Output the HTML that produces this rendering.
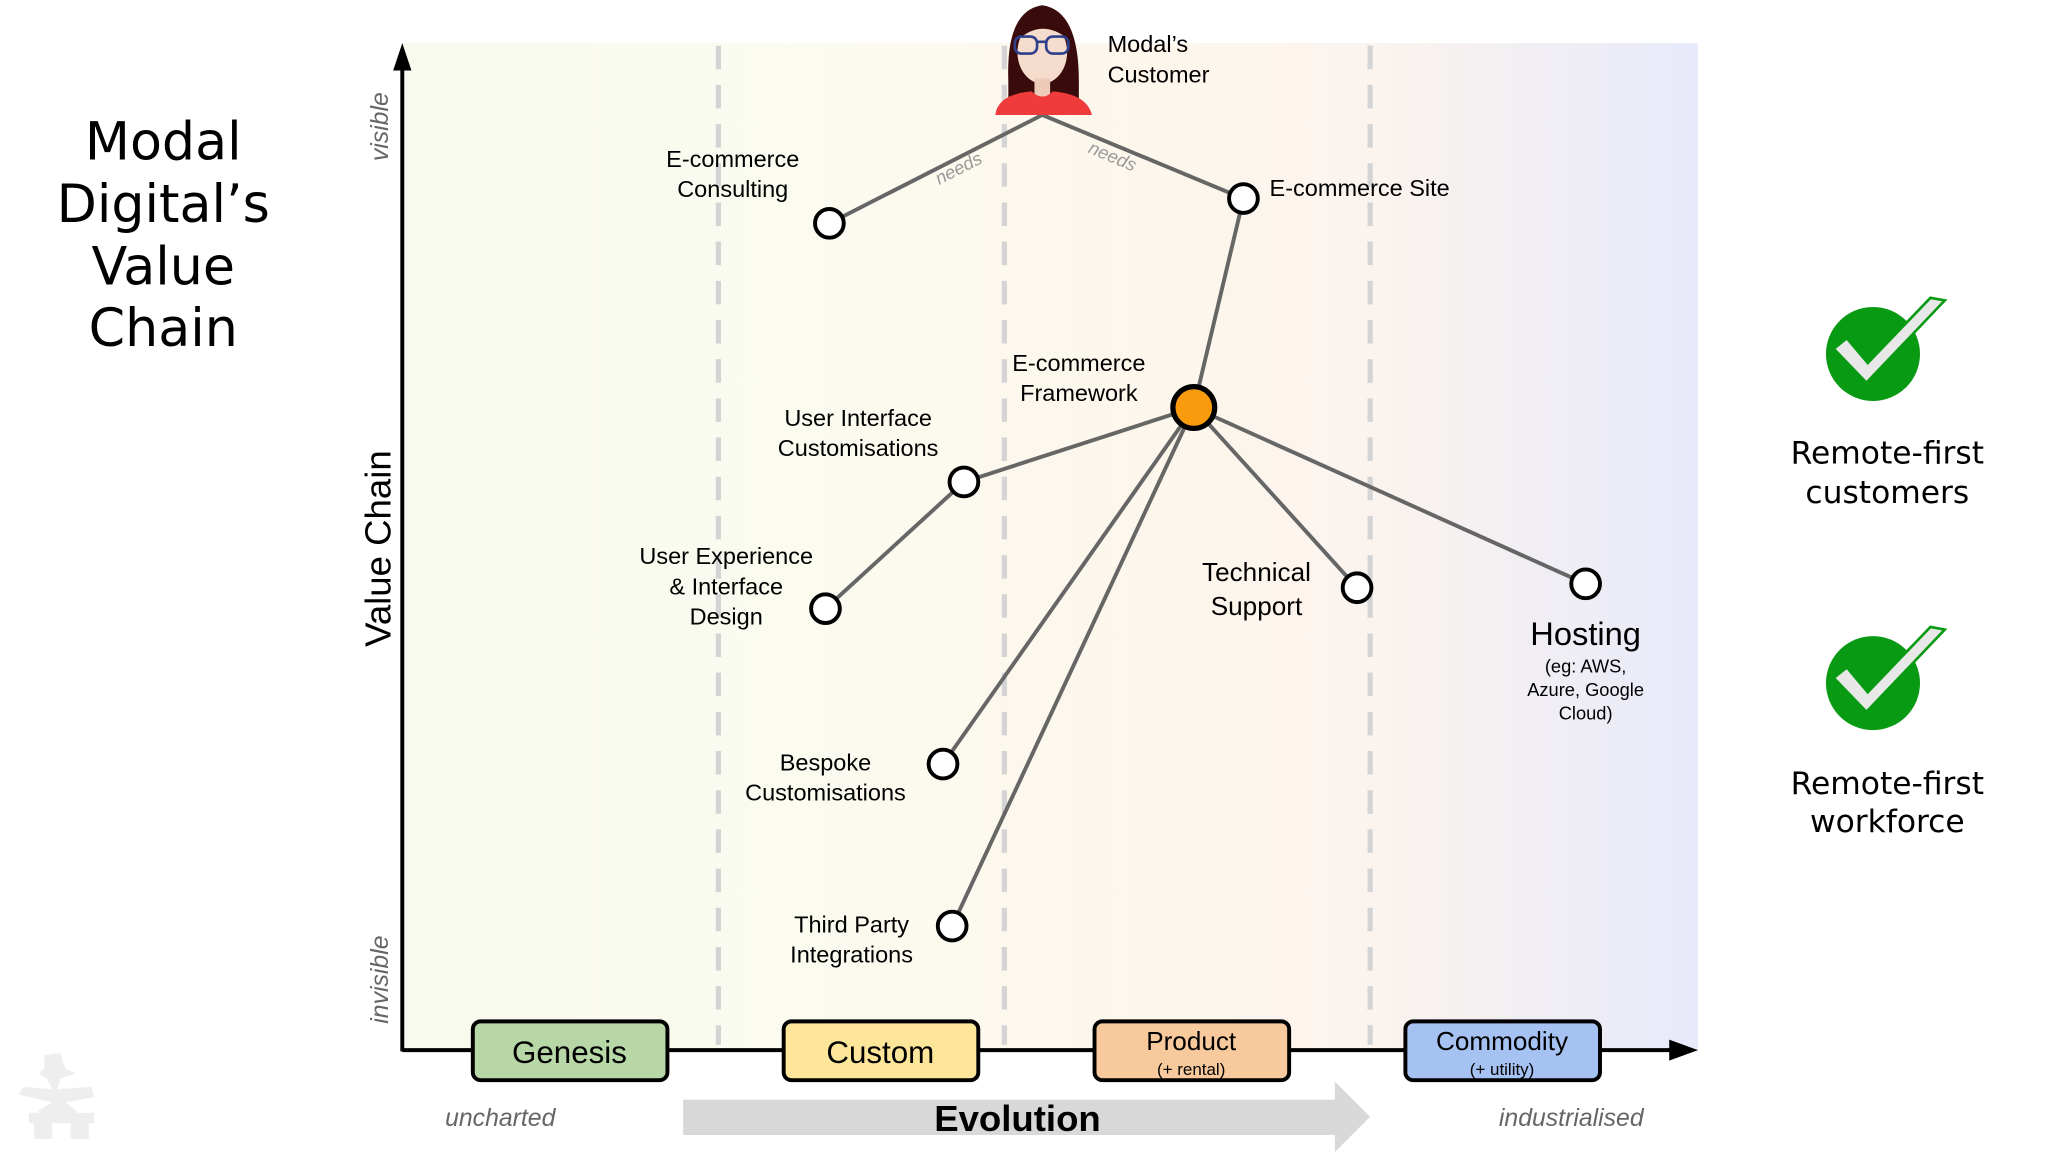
<!DOCTYPE html>
<html><head><meta charset="utf-8"><style>
html,body{margin:0;padding:0;background:#fff;}
svg{display:block;}
text{font-family:"Liberation Sans",sans-serif;}
</style></head><body>
<svg width="2048" height="1152" viewBox="0 0 1568 882" preserveAspectRatio="none" xmlns="http://www.w3.org/2000/svg">
<defs>
<linearGradient id="bg" x1="0" x2="1" y1="0" y2="0">
<stop offset="0" stop-color="#f8faee"/>
<stop offset="0.3" stop-color="#fbfbf0"/>
<stop offset="0.6" stop-color="#fdf6ec"/>
<stop offset="0.75" stop-color="#fbf3ee"/>
<stop offset="1" stop-color="#e7eafa"/>
</linearGradient>
</defs>
<rect x="308" y="33" width="992" height="772" fill="url(#bg)"/>
<g stroke="#d4d4d4" stroke-width="4" stroke-dasharray="18,12">
<line x1="550" y1="35" x2="550" y2="800"/>
<line x1="769" y1="35" x2="769" y2="800"/>
<line x1="1049" y1="35" x2="1049" y2="800"/>
</g>
<!-- axes -->
<line x1="308" y1="805" x2="308" y2="48" stroke="#000" stroke-width="3"/>
<polygon points="308,33 301,54 315,54" fill="#000"/>
<line x1="308" y1="804" x2="1282" y2="804" stroke="#000" stroke-width="3"/>
<polygon points="1300,804 1278,796 1278,812" fill="#000"/>
<!-- title -->
<g font-family="DejaVu Sans, sans-serif" font-size="40" text-anchor="middle" fill="#000">
<text x="125" y="122" style="font-family:'DejaVu Sans',sans-serif">Modal</text>
<text x="125" y="170" style="font-family:'DejaVu Sans',sans-serif">Digital’s</text>
<text x="125" y="218" style="font-family:'DejaVu Sans',sans-serif">Value</text>
<text x="125" y="265" style="font-family:'DejaVu Sans',sans-serif">Chain</text>
</g>
<text transform="translate(297,97) rotate(-90)" font-size="19" font-style="italic" fill="#666" text-anchor="middle">visible</text>
<text transform="translate(297,750) rotate(-90)" font-size="19" font-style="italic" fill="#666" text-anchor="middle">invisible</text>
<text transform="translate(299,420) rotate(-90)" font-size="28" fill="#000" text-anchor="middle">Value Chain</text>
<!-- links -->
<g stroke="#666" stroke-width="3" fill="none">
<line x1="798" y1="88" x2="635" y2="171"/>
<line x1="798" y1="88" x2="952" y2="152"/>
<line x1="952" y1="152" x2="914" y2="312"/>
<line x1="914" y1="312" x2="738" y2="369"/>
<line x1="738" y1="369" x2="632" y2="466"/>
<line x1="914" y1="312" x2="722" y2="585"/>
<line x1="914" y1="312" x2="729" y2="709"/>
<line x1="914" y1="312" x2="1039" y2="450"/>
<line x1="914" y1="312" x2="1214" y2="447"/>
</g>
<text transform="translate(736,133) rotate(-27)" font-size="14" font-style="italic" fill="#999" text-anchor="middle">needs</text>
<text transform="translate(850,124) rotate(23)" font-size="14" font-style="italic" fill="#999" text-anchor="middle">needs</text>
<!-- nodes -->
<g fill="#fff" stroke="#000" stroke-width="3">
<circle cx="635" cy="171" r="11"/>
<circle cx="952" cy="152" r="11"/>
<circle cx="738" cy="369" r="11"/>
<circle cx="632" cy="466" r="11"/>
<circle cx="722" cy="585" r="11"/>
<circle cx="729" cy="709" r="11"/>
<circle cx="1039" cy="450" r="11"/>
<circle cx="1214" cy="447" r="11"/>
</g>
<circle cx="914" cy="312" r="16" fill="#f99b0c" stroke="#000" stroke-width="4"/>
<!-- labels -->
<g font-size="18" fill="#000" text-anchor="middle">
<text x="561" y="128">E-commerce</text><text x="561" y="151">Consulting</text>
<text x="826" y="284">E-commerce</text><text x="826" y="307">Framework</text>
<text x="657" y="326">User Interface</text><text x="657" y="349">Customisations</text>
<text x="556" y="432">User Experience</text><text x="556" y="455">&amp; Interface</text><text x="556" y="478">Design</text>
<text x="632" y="590">Bespoke</text><text x="632" y="613">Customisations</text>
<text x="652" y="714">Third Party</text><text x="652" y="737">Integrations</text>
<text x="962" y="445" font-size="20">Technical</text><text x="962" y="471" font-size="20">Support</text>
<text x="1214" y="494" font-size="25">Hosting</text>
<text x="1214" y="515" font-size="14">(eg: AWS,</text>
<text x="1214" y="533" font-size="14">Azure, Google</text>
<text x="1214" y="551" font-size="14">Cloud)</text>
</g>
<text x="972" y="150" font-size="18">E-commerce Site</text>
<text x="848" y="40" font-size="18">Modal’s</text>
<text x="848" y="63" font-size="18">Customer</text>
<!-- avatar -->
<g>
<path d="M772,62 Q770,8 798,4 Q826,8 826,62 L826,78 L772,78 Z" fill="#3a0b0b"/>
<ellipse cx="798" cy="40" rx="19" ry="24" fill="#f6dccd"/>
<path d="M780,30 Q798,14 818,30 L818,20 Q798,2 778,20 Z" fill="#3a0b0b"/>
<rect x="792" y="60" width="12" height="14" fill="#eecbb9"/>
<path d="M762,88 Q764,72 790,70 Q798,78 806,70 Q832,72 836,88 Z" fill="#ef3b3b"/>
<rect x="777" y="28" width="17" height="13" rx="5" fill="none" stroke="#2e3f8c" stroke-width="2"/>
<rect x="801" y="28" width="17" height="13" rx="5" fill="none" stroke="#2e3f8c" stroke-width="2"/>
<line x1="794" y1="32" x2="801" y2="32" stroke="#2e3f8c" stroke-width="2"/>
</g>
<!-- stages -->
<g stroke="#000" stroke-width="3">
<rect x="362" y="782" width="149" height="45" rx="6" fill="#b8d7a7"/>
<rect x="600" y="782" width="149" height="45" rx="6" fill="#fde59a"/>
<rect x="838" y="782" width="149" height="45" rx="6" fill="#f8c99c"/>
<rect x="1076" y="782" width="149" height="45" rx="6" fill="#a5c2f3"/>
</g>
<g text-anchor="middle" fill="#000">
<text x="436" y="814" font-size="24">Genesis</text>
<text x="674" y="814" font-size="24">Custom</text>
<text x="912" y="804" font-size="20">Product</text>
<text x="912" y="823" font-size="13">(+ rental)</text>
<text x="1150" y="804" font-size="20">Commodity</text>
<text x="1150" y="823" font-size="13">(+ utility)</text>
</g>
<!-- evolution -->
<polygon points="523,842 1022,842 1022,828 1049,855 1022,882 1022,869 523,869" fill="#d8d8d8"/>
<text x="779" y="866" font-size="28" font-weight="bold" text-anchor="middle">Evolution</text>
<text x="383" y="862" font-size="19" font-style="italic" fill="#666" text-anchor="middle">uncharted</text>
<text x="1203" y="862" font-size="19" font-style="italic" fill="#666" text-anchor="middle">industrialised</text>
<!-- checks -->
<g>
<ellipse cx="1434" cy="271" rx="36" ry="36" fill="#099a14"/>
<polygon points="1404,267 1429,293 1489,230 1478,228 1430,278 1414,259" fill="#e8e8e8" stroke="#099a14" stroke-width="2"/>
<ellipse cx="1434" cy="523" rx="36" ry="36" fill="#099a14"/>
<polygon points="1404,519 1429,545 1489,482 1478,480 1430,530 1414,511" fill="#e8e8e8" stroke="#099a14" stroke-width="2"/>
</g>
<g font-size="24" text-anchor="middle" fill="#000" style="font-family:'DejaVu Sans',sans-serif">
<text x="1445" y="355" style="font-family:'DejaVu Sans',sans-serif">Remote-first</text>
<text x="1445" y="385" style="font-family:'DejaVu Sans',sans-serif">customers</text>
<text x="1445" y="608" style="font-family:'DejaVu Sans',sans-serif">Remote-first</text>
<text x="1445" y="637" style="font-family:'DejaVu Sans',sans-serif">workforce</text>
</g>
<!-- logo -->
<g fill="#eeeeee">
<polygon points="34,808 46,806 50,818 58,822 46,826 44,834 70,832 72,840 50,844 58,850 62,858 28,858 30,850 40,844 14,838 18,832 40,834 36,826 30,822 34,818"/>
<rect x="22" y="852" width="50" height="8"/>
<rect x="26" y="858" width="14" height="14"/>
<rect x="54" y="858" width="14" height="14"/>
</g>
</svg>
</body></html>
